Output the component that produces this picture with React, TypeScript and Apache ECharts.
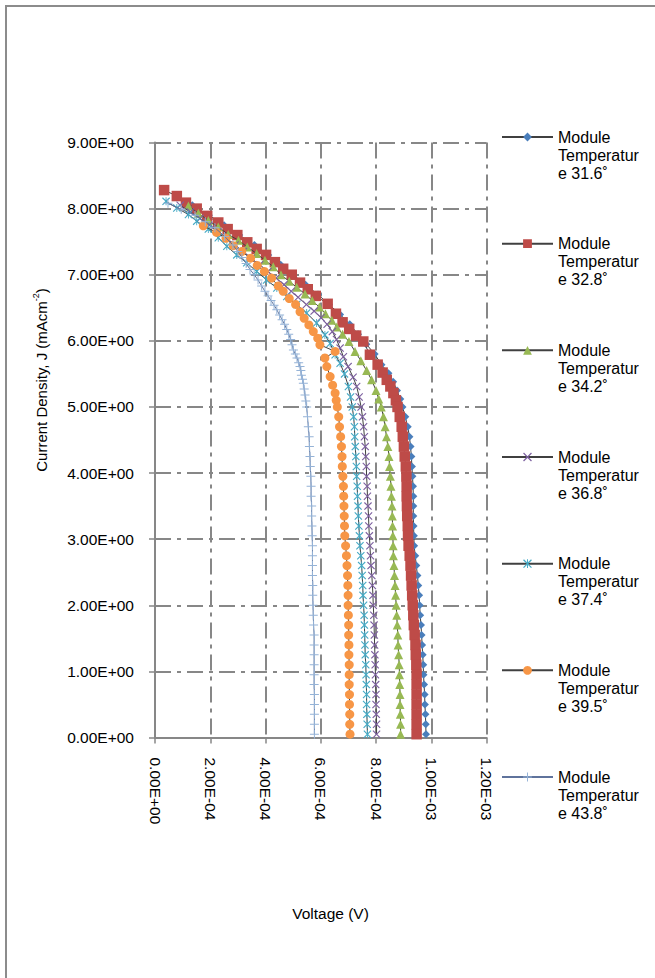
import React, { useEffect, useRef } from 'react';
import * as echarts from 'echarts';

// Shared current-density levels (mA cm^-2) read along the steep lower part of every curve
const J_GRID = [5.0, 4.85, 4.7, 4.55, 4.4, 4.25, 4.1, 3.95, 3.8, 3.65, 3.5, 3.35, 3.2, 3.05, 2.9, 2.75, 2.6, 2.45, 2.3, 2.15, 2.0, 1.85, 1.7, 1.55, 1.4, 1.25, 1.1, 0.95, 0.8, 0.65, 0.5, 0.35, 0.2, 0.05];

// Voltages are given in units of 1e-4 V
const V_UNIT = 1e-4;

// Module Temperature 31.6
const T316_upJ = [8.05, 7.90, 7.75, 7.60, 7.45, 7.30, 7.15, 7.00, 6.85, 6.70, 6.55, 6.40, 6.25, 6.10, 5.95, 5.80, 5.64, 5.51, 5.38, 5.25, 5.12];
const T316_upV = [1.35, 1.95, 2.50, 3.05, 3.60, 4.10, 4.55, 5.00, 5.45, 5.90, 6.30, 6.70, 7.05, 7.35, 7.65, 7.95, 8.20, 8.45, 8.62, 8.76, 8.88];
const T316_lowV = [8.96, 9.06, 9.15, 9.21, 9.25, 9.28, 9.30, 9.32, 9.34, 9.35, 9.35, 9.35, 9.36, 9.37, 9.38, 9.42, 9.46, 9.50, 9.53, 9.56, 9.58, 9.60, 9.63, 9.65, 9.67, 9.69, 9.71, 9.72, 9.74, 9.76, 9.77, 9.79, 9.80, 9.81];

// Module Temperature 32.8
const T328_upJ = [8.28, 8.19, 8.09, 8.00, 7.89, 7.79, 7.69, 7.60, 7.49, 7.39, 7.30, 7.19, 7.09, 7.00, 6.88, 6.78, 6.68, 6.56, 6.41, 6.28, 6.18, 6.08, 5.99, 5.79, 5.64, 5.52, 5.41, 5.31, 5.21, 5.10];
const T328_upV = [0.33, 0.79, 1.12, 1.51, 1.89, 2.29, 2.63, 2.98, 3.34, 3.68, 4.02, 4.34, 4.64, 4.95, 5.25, 5.53, 5.82, 6.25, 6.55, 6.79, 7.03, 7.28, 7.54, 7.78, 8.06, 8.24, 8.39, 8.52, 8.63, 8.72];
const T328_lowV = [8.78, 8.86, 8.93, 8.97, 9.01, 9.04, 9.08, 9.10, 9.11, 9.11, 9.12, 9.13, 9.15, 9.16, 9.18, 9.22, 9.25, 9.27, 9.29, 9.31, 9.33, 9.35, 9.37, 9.40, 9.43, 9.44, 9.46, 9.47, 9.47, 9.47, 9.47, 9.47, 9.47, 9.47];

// Module Temperature 34.2
const T342_upJ = [8.04, 7.93, 7.82, 7.72, 7.61, 7.52, 7.42, 7.32, 7.22, 7.12, 7.00, 6.90, 6.81, 6.71, 6.61, 6.51, 6.41, 6.31, 6.21, 6.10, 5.99, 5.84, 5.70, 5.55, 5.41, 5.25, 5.12];
const T342_upV = [1.21, 1.57, 1.93, 2.29, 2.65, 3.02, 3.34, 3.68, 3.98, 4.28, 4.56, 4.86, 5.13, 5.43, 5.69, 5.95, 6.17, 6.40, 6.58, 6.79, 7.02, 7.24, 7.45, 7.66, 7.84, 8.00, 8.10];
const T342_lowV = [8.19, 8.27, 8.33, 8.38, 8.43, 8.47, 8.49, 8.52, 8.54, 8.56, 8.58, 8.59, 8.60, 8.61, 8.62, 8.63, 8.65, 8.67, 8.69, 8.71, 8.73, 8.75, 8.77, 8.79, 8.80, 8.82, 8.84, 8.85, 8.86, 8.87, 8.87, 8.88, 8.89, 8.89];

// Module Temperature 36.8
const T368_upJ = [8.05, 7.95, 7.85, 7.75, 7.65, 7.55, 7.45, 7.35, 7.25, 7.15, 7.05, 6.95, 6.85, 6.75, 6.66, 6.55, 6.45, 6.35, 6.25, 6.14, 6.02, 5.89, 5.76, 5.61, 5.45, 5.31, 5.15];
const T368_upV = [0.91, 1.28, 1.63, 1.96, 2.28, 2.60, 2.90, 3.20, 3.48, 3.79, 4.09, 4.38, 4.67, 4.93, 5.18, 5.48, 5.76, 6.01, 6.23, 6.42, 6.57, 6.70, 6.82, 6.99, 7.17, 7.30, 7.39];
const T368_lowV = [7.46, 7.51, 7.55, 7.58, 7.61, 7.63, 7.65, 7.66, 7.68, 7.69, 7.71, 7.73, 7.74, 7.76, 7.78, 7.80, 7.82, 7.85, 7.87, 7.89, 7.90, 7.92, 7.93, 7.94, 7.95, 7.96, 7.97, 7.98, 7.99, 8.00, 8.00, 8.01, 8.02, 8.02];

// Module Temperature 37.4
const T374_upJ = [8.11, 8.01, 7.91, 7.81, 7.69, 7.56, 7.43, 7.30, 7.18, 7.05, 6.92, 6.80, 6.67, 6.55, 6.42, 6.27, 6.09, 5.96, 5.79, 5.66, 5.50, 5.31, 5.15];
const T374_upV = [0.40, 0.79, 1.21, 1.51, 1.93, 2.29, 2.60, 2.96, 3.32, 3.68, 4.04, 4.41, 4.77, 5.13, 5.49, 5.85, 6.15, 6.34, 6.52, 6.70, 6.86, 7.00, 7.08];
const T374_lowV = [7.14, 7.19, 7.22, 7.23, 7.25, 7.27, 7.29, 7.30, 7.32, 7.33, 7.35, 7.36, 7.38, 7.40, 7.42, 7.45, 7.48, 7.50, 7.52, 7.53, 7.55, 7.57, 7.58, 7.59, 7.60, 7.61, 7.63, 7.64, 7.65, 7.66, 7.66, 7.67, 7.68, 7.69];

// Module Temperature 39.5
const T395_upJ = [7.74, 7.64, 7.55, 7.44, 7.35, 7.25, 7.14, 7.05, 6.95, 6.83, 6.75, 6.64, 6.55, 6.44, 6.34, 6.24, 6.14, 6.04, 5.94, 5.84, 5.74, 5.61, 5.46, 5.33, 5.21, 5.10];
const T395_upV = [1.75, 2.23, 2.57, 2.83, 3.14, 3.46, 3.70, 3.96, 4.22, 4.46, 4.64, 4.86, 5.09, 5.25, 5.40, 5.57, 5.73, 5.89, 5.97, 6.52, 6.15, 6.22, 6.34, 6.43, 6.52, 6.56];
const T395_lowV = [6.60, 6.65, 6.68, 6.72, 6.75, 6.77, 6.78, 6.80, 6.82, 6.83, 6.84, 6.85, 6.86, 6.87, 6.90, 6.93, 6.95, 6.97, 6.98, 6.99, 6.99, 7.00, 7.01, 7.01, 7.02, 7.02, 7.03, 7.03, 7.03, 7.04, 7.04, 7.05, 7.05, 7.06];

// Module Temperature 43.8
const T438_upJ = [8.08, 7.99, 7.90, 7.80, 7.71, 7.58, 7.45, 7.35, 7.26, 7.17, 7.08, 7.00, 6.92, 6.83, 6.75, 6.68, 6.61, 6.54, 6.47, 6.39, 6.32, 6.25, 6.17, 6.10, 6.02, 5.94, 5.86, 5.80, 5.74, 5.67, 5.61, 5.55, 5.48, 5.42, 5.36, 5.27, 5.18, 5.09];
const T438_upV = [0.47, 0.95, 1.45, 1.82, 2.17, 2.52, 2.82, 3.00, 3.15, 3.30, 3.44, 3.59, 3.73, 3.86, 3.98, 4.09, 4.20, 4.31, 4.41, 4.51, 4.60, 4.69, 4.77, 4.84, 4.91, 4.96, 5.01, 5.08, 5.14, 5.20, 5.25, 5.28, 5.30, 5.34, 5.37, 5.40, 5.43, 5.46];
const T438_lowV = [5.49, 5.52, 5.55, 5.58, 5.59, 5.61, 5.62, 5.64, 5.65, 5.65, 5.67, 5.67, 5.68, 5.69, 5.70, 5.70, 5.70, 5.70, 5.71, 5.71, 5.72, 5.73, 5.74, 5.76, 5.76, 5.76, 5.76, 5.76, 5.76, 5.77, 5.77, 5.77, 5.77, 5.77];

const SERIES_NAMES = [
  'Module Temperature 31.6˚',
  'Module Temperature 32.8˚',
  'Module Temperature 34.2˚',
  'Module Temperature 36.8˚',
  'Module Temperature 37.4˚',
  'Module Temperature 39.5˚',
  'Module Temperature 43.8˚',
];

const X_TICKS = { min: 0, max: 0.0012, interval: 0.0002 };
const Y_TICKS = { min: 0, max: 9, interval: 1 };

const PATH_X = 'path://M0,1L1,0L5,4L9,0L10,1L6,5L10,9L9,10L5,6L1,10L0,9L4,5Z';
const PATH_STAR = 'path://M0,1L1,0L5,4L9,0L10,1L6,5L10,9L9,10L5,6L1,10L0,9L4,5Z M4.45,0L5.55,0L5.55,10L4.45,10Z';
const PATH_PLUS = 'path://M0,4.45L10,4.45L10,5.55L0,5.55Z M4.45,0L5.55,0L5.55,10L4.45,10Z';

const FONT = '"Liberation Sans", Arial, Helvetica, sans-serif';

function buildData(upJ: number[], upV: number[], lowV: number[]) {
  const pts: number[][] = [];
  upJ.forEach((j, i) => pts.push([upV[i] * V_UNIT, j]));
  J_GRID.forEach((j, i) => pts.push([lowV[i] * V_UNIT, j]));
  return pts;
}

function fmtSci(v: number) {
  if (v === 0) return '0.00E+00';
  const e = Math.floor(Math.log10(Math.abs(v)) + 1e-9);
  const m = v / Math.pow(10, e);
  return m.toFixed(2) + 'E' + (e < 0 ? '-' : '+') + String(Math.abs(e)).padStart(2, '0');
}

export default function App() {
  const ref = useRef<HTMLDivElement>(null);
  useEffect(() => {
    if (!ref.current) return;
    const chart = echarts.init(ref.current, undefined, { renderer: 'svg' });
    const datasets = [
      buildData(T316_upJ, T316_upV, T316_lowV),
      buildData(T328_upJ, T328_upV, T328_lowV),
      buildData(T342_upJ, T342_upV, T342_lowV),
      buildData(T368_upJ, T368_upV, T368_lowV),
      buildData(T374_upJ, T374_upV, T374_lowV),
      buildData(T395_upJ, T395_upV, T395_lowV),
      buildData(T438_upJ, T438_upV, T438_lowV),
    ];
    const styles = [
      { color: '#4A7EBB', symbol: 'diamond', size: 8, line: '#404040' },
      { color: '#BE4B48', symbol: 'rect', size: 10.5, line: '#404040' },
      { color: '#98B954', symbol: 'triangle', size: 9, line: '#404040' },
      { color: '#7D60A0', symbol: PATH_X, size: 8, line: '#404040' },
      { color: '#46AAC5', symbol: PATH_STAR, size: 8, line: '#404040' },
      { color: '#F79646', symbol: 'circle', size: 9, line: '#404040' },
      { color: '#95B3D7', symbol: PATH_PLUS, size: 9, line: '#5f739c' },
    ];
    const series = SERIES_NAMES.map((name, i) => ({
      name,
      type: 'line',
      data: datasets[i],
      symbol: styles[i].symbol,
      symbolSize: styles[i].size,
      showSymbol: true,
      showAllSymbol: true,
      lineStyle: { color: styles[i].line, width: 1 },
      itemStyle: { color: styles[i].color },
      emphasis: { disabled: true },
      z: 2 + i,
    }));
    const gridLine = { color: '#878787', width: 2, type: [16, 6, 4, 6] };
    chart.setOption({
      animation: false,
      backgroundColor: '#ffffff',
      textStyle: { fontFamily: FONT },
      grid: { left: 155, top: 142.5, width: 331.5, height: 595, containLabel: false },
      xAxis: {
        type: 'value',
        min: X_TICKS.min,
        max: X_TICKS.max,
        interval: X_TICKS.interval,
        axisLine: { show: true, onZero: false, lineStyle: { color: '#878787', width: 2 } },
        axisTick: { show: true, length: 6, lineStyle: { color: '#878787', width: 1.5 } },
        axisLabel: { rotate: -90, margin: 20, fontSize: 15.5, color: '#000', fontFamily: FONT, formatter: fmtSci },
        splitLine: { show: true, lineStyle: gridLine },
      },
      yAxis: {
        type: 'value',
        min: Y_TICKS.min,
        max: Y_TICKS.max,
        interval: Y_TICKS.interval,
        axisLine: { show: true, onZero: false, lineStyle: { color: '#878787', width: 2 } },
        axisTick: { show: true, length: 6, lineStyle: { color: '#878787', width: 1.5 } },
        axisLabel: { margin: 21, fontSize: 15.5, color: '#000', fontFamily: FONT, formatter: (v: number) => v.toFixed(2) + 'E+00' },
        splitLine: { show: true, lineStyle: gridLine },
      },
      legend: {
        orient: 'vertical',
        left: 501,
        top: 92,
        padding: 0,
        itemGap: 16.67,
        itemWidth: 51,
        itemHeight: 11,
        selectedMode: false,
        textStyle: { fontSize: 16, lineHeight: 18, color: '#000', fontFamily: FONT },
        formatter: (n: string) => '\n\n' + n.replace('Module ', 'Module\n').replace('Temperature', 'Temperatur\ne'),
        data: SERIES_NAMES,
      },
      graphic: [
        {
          type: 'rect',
          silent: true,
          z: -10,
          shape: { x: 6, y: 6, width: 800, height: 1100 },
          style: { fill: 'none', stroke: '#8c8c8c', lineWidth: 2 },
        },
        {
          type: 'text',
          x: 40,
          y: 380,
          rotation: Math.PI / 2,
          style: {
            text: '{a|Current Density, J (mAcm}{s|-2}{a|)}',
            align: 'center',
            verticalAlign: 'middle',
            rich: {
              a: { fontSize: 15, fontFamily: FONT, fill: '#000', verticalAlign: 'bottom', lineHeight: 18 },
              s: { fontSize: 9, fontFamily: FONT, fill: '#000', verticalAlign: 'top', lineHeight: 18 },
            },
          },
        },
        {
          type: 'text',
          x: 330.5,
          y: 913,
          style: { text: 'Voltage (V)', font: '15.5px ' + FONT, fill: '#000', align: 'center', verticalAlign: 'middle' },
        },
      ],
      series,
    });
    return () => chart.dispose();
  }, []);
  return <div ref={ref} style={{ position: 'absolute', left: 0, top: 0, width: 655, height: 978 }} />;
}
